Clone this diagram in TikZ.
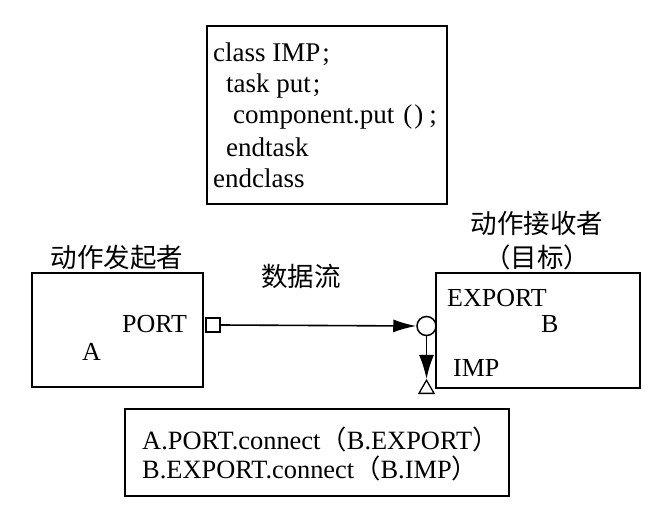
\documentclass[tikz,border=0pt]{standalone}
\usepackage{fontspec}
\setmainfont{Liberation Serif}
\newfontfamily\cjk{Noto Sans CJK SC}
\usetikzlibrary{arrows.meta,shapes.geometric}
\tikzset{
  frame/.style={draw, line width=1.6pt, inner sep=0pt},
  txt/.style={inner sep=0pt, anchor=base west, font=\fontsize{26pt}{30pt}\selectfont},
  code/.style={inner sep=0pt, anchor=base west, font=\fontsize{27pt}{30pt}\selectfont},
  bottxt/.style={inner sep=0pt, anchor=base west, font=\fontsize{26.4pt}{30pt}\selectfont},
  ctxt/.style={inner sep=0pt, font=\cjk\fontsize{26.5pt}{30pt}\selectfont},
  flow/.style={line width=1.6pt, -{Latex[length=23pt,width=13pt]}},
}
\begin{document}
\begin{tikzpicture}[x=1pt,y=-1pt]
\useasboundingbox (0,0) rectangle (666,508);
% top code box
\node[frame, minimum width=240pt, minimum height=178pt] (code) at (327,115) {};
\node[code] (c1) at (213,62) {class IMP\hspace{2pt};};
\node[code] (c2) at (226,93) {task put\hspace{2pt};};
\node[code] (c3) at (233,124) {component.put\hspace{9pt}(\hspace{2pt})\hspace{6pt};};
\node[code] (c4) at (226,156) {endtask};
\node[code] (c5) at (213,187) {endclass};
% box A
\node[frame, minimum width=171pt, minimum height=114pt] (boxA) at (117.5,330) {};
\node[ctxt] (tA) at (117,257) {动作发起者};
\node[txt] (port) at (122,332) {PORT};
\node[txt] (lA) at (82,360) {A};
% box B
\node[frame, minimum width=204pt, minimum height=115pt] (boxB) at (538,330.5) {};
\node[ctxt] (tB1) at (537,223) {动作接收者};
\node[ctxt] (tB2) at (537,257) {（目标）};
\node[txt] (export) at (447,306) {EXPORT};
\node[txt] (lB) at (541,332) {B};
\node[txt] (imp) at (453,376) {IMP};
% data flow
\node[ctxt] (flowlbl) at (301,276) {数据流};
\node[draw, line width=1.3pt, minimum size=14pt, inner sep=0pt] (sq) at (213,325) {};
\node[draw, line width=1.5pt, circle, minimum size=19pt, inner sep=0pt] (circ) at (426.5,326) {};
\node[draw, line width=1.3pt, regular polygon, regular polygon sides=3, minimum size=17.5pt, inner sep=0pt] (tri) at (426.5,389) {};
\draw[flow] (sq.east) -- (circ.west);
\draw[line width=1.6pt, -{Latex[length=24pt,width=15pt]}] (circ.south) -- (tri.north);
% bottom box
\node[frame, minimum width=384pt, minimum height=87pt] (bot) at (317,452.5) {};
\node[bottxt] (b1) at (142,449) {A.PORT.connect{\cjk （}B.EXPORT{\cjk ）}};
\node[bottxt] (b2) at (142,478) {B.EXPORT.connect{\cjk （}B.IMP{\cjk ）}};
\end{tikzpicture}
\end{document}
